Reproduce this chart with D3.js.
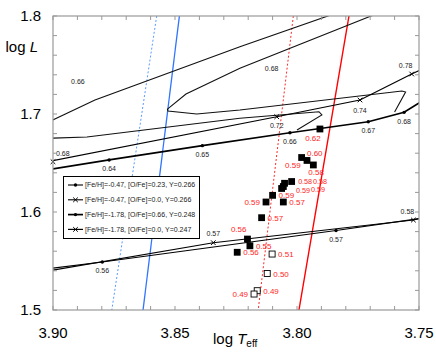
<!DOCTYPE html>
<html><head><meta charset="utf-8">
<script src="https://cdn.jsdelivr.net/npm/d3@7"></script>
<style>body{margin:0;background:#fff} svg{display:block;font-family:"Liberation Sans",Arial,sans-serif}</style>
</head><body><svg id="c" width="436" height="356"></svg>
<script>
// ---------- data ----------
const xTickLabels = [3.90, 3.85, 3.80, 3.75];
const yTickLabels = [1.5, 1.6, 1.7, 1.8];
const legendLabels = [
  "[Fe/H]=-0.47, [O/Fe]=0.23, Y=0.266",
  "[Fe/H]=-0.47, [O/Fe]=0.0, Y=0.266",
  "[Fe/H]=-1.78, [O/Fe]=0.66, Y=0.248",
  "[Fe/H]=-1.78, [O/Fe]=0.0, Y=0.247"
];
// ZAHB lines [logTeff, logL]
const zahbS1 = [[3.905,1.5412],[3.8798,1.5490],[3.7840,1.5811],[3.745,1.5950]];
const zahbS2 = [[3.905,1.5385],[3.8343,1.5687],[3.7523,1.5918],[3.745,1.5965]];
const zahbS3 = [[3.905,1.6420],[3.8770,1.6531],[3.8388,1.6677],[3.8029,1.6809],[3.7708,1.6921],[3.7561,1.7017],[3.745,1.7190]];
const zahbS4 = [[3.905,1.6500],[3.8083,1.6972],[3.7742,1.7143],[3.7530,1.7408],[3.745,1.7500]];
// labelled masses on ZAHB lines [logTeff, logL, mass]
const massS1 = [[3.8798,1.5490,"0.56"],[3.7840,1.5811,"0.57"]];
const massS2 = [[3.8343,1.5687,"0.57"],[3.7523,1.5918,"0.58"]];
const massS3 = [[3.8770,1.6531,"0.64"],[3.8388,1.6677,"0.65"],[3.8029,1.6809,"0.66"],[3.7708,1.6921,"0.67"],[3.7561,1.7017,"0.68"]];
const massS4 = [[3.900,1.6513,"0.68"],[3.8083,1.6972,"0.72"],[3.7742,1.7143,"0.74"],[3.7530,1.7408,"0.78"]];
const massS1Side = ["b","b"];
const massS2Side = ["a","al"];
const massS3Side = ["b","b","b","b","b"];
const massS4Side = ["ar","b","b2","al"];
// evolutionary tracks (no markers)
const track066 = [[3.8000,1.6837],[3.7898,1.6990],[3.7910,1.7023],[3.8234,1.6956],[3.8861,1.6765],[3.905,1.6750],[3.908,1.6800],[3.905,1.6880],[3.8828,1.7143],[3.8234,1.7687],[3.7756,1.8102]];
const track068 = [[3.7600,1.7020],[3.7555,1.7224],[3.7570,1.7235],[3.8234,1.7041],[3.8411,1.7000],[3.8529,1.7031],[3.8531,1.7050],[3.8455,1.7204],[3.8234,1.7466],[3.7594,1.8102]];
const trackLabels = [[3.8898,1.7327,"0.66"],[3.8104,1.7466,"0.68"]];
// instability strip edges [[top],[bottom]]
const blueSolid = [[3.8482,1.8],[3.8631,1.5]];
const blueDash  = [[3.8575,1.8],[3.8759,1.5]];
const redSolid  = [[3.7787,1.8],[3.7992,1.5]];
const redDash   = [[3.8015,1.8],[3.8159,1.5]];
// stars [logTeff, logL, mass]
const starsFilled = [[3.7906,1.6847,"0.62"],[3.7981,1.6556,"0.59"],[3.7959,1.6526,"0.60"],[3.7933,1.6480,"0.58"],
  [3.8022,1.6311,"0.58"],[3.8051,1.6293,"0.58"],[3.8056,1.6260,"0.59"],[3.8063,1.6240,"0.59"],
  [3.8100,1.6170,"0.59"],[3.8127,1.6102,"0.59"],[3.8056,1.6102,"0.57"],[3.8145,1.5942,"0.57"],
  [3.8203,1.5724,"0.56"],[3.8193,1.5655,"0.55"],[3.8245,1.5589,"0.56"]];
const starsFilledSide = ["bl","bl2","ur","br","c1","c2","c3","c4","r","l","r","r","ul","r","r"];
const starsOpen = [[3.8102,1.5571,"0.51"],[3.8122,1.5372,"0.50"],[3.8163,1.5197,"0.49"],[3.8176,1.5163,"0.49"]];
const starsOpenSide = ["r","r","r","l"];

// ---------- layout ----------
const m = {l:53, r:419, t:16, b:310};
const x = d3.scaleLinear().domain([3.90,3.75]).range([m.l,m.r]);
const y = d3.scaleLinear().domain([1.5,1.8]).range([m.b,m.t]);
const svg = d3.select("#c");

svg.append("defs").append("clipPath").attr("id","clip")
  .append("rect").attr("x",m.l).attr("y",m.t).attr("width",m.r-m.l).attr("height",m.b-m.t);
const plot = svg.append("g").attr("clip-path","url(#clip)");
const line = d3.line().x(d=>x(d[0])).y(d=>y(d[1]));

// strip edges
plot.append("path").datum(blueDash).attr("d",line).attr("fill","none").attr("stroke","#5b9bff").attr("stroke-width",1).attr("stroke-dasharray","2,2");
plot.append("path").datum(blueSolid).attr("d",line).attr("fill","none").attr("stroke","#2f74ff").attr("stroke-width",1.3);
plot.append("path").datum(redDash).attr("d",line).attr("fill","none").attr("stroke","#ff2a2a").attr("stroke-width",1).attr("stroke-dasharray","2,2");
plot.append("path").datum(redSolid).attr("d",line).attr("fill","none").attr("stroke","#ff0000").attr("stroke-width",1.4);

// tracks
[track066, track068].forEach(t=>{
  plot.append("path").datum(t).attr("d",line).attr("fill","none").attr("stroke","#111").attr("stroke-width",1.1);
});
const series = [
  {pts:zahbS1, marks:massS1, side:massS1Side, sym:"dot", w:1.1},
  {pts:zahbS2, marks:massS2, side:massS2Side, sym:"x", w:1.1},
  {pts:zahbS3, marks:massS3, side:massS3Side, sym:"dot", w:1.7},
  {pts:zahbS4, marks:massS4, side:massS4Side, sym:"x", w:1.2}
];
function drawSym(g, sym, cx, cy){
  if(sym==="dot"){
    g.append("circle").attr("cx",cx).attr("cy",cy).attr("r",1.7).attr("fill","#000");
  } else {
    const s=2.3;
    g.append("path").attr("d",`M${cx-s},${cy-s}L${cx+s},${cy+s}M${cx-s},${cy+s}L${cx+s},${cy-s}`)
      .attr("stroke","#000").attr("stroke-width",1);
  }
}
const massOff = {b:[0,11.5,"middle"], b2:[0,13.5,"middle"], a:[0,-6.5,"middle"], al:[-6,-6.5,"middle"], ar:[3,-6,"start"]};
series.forEach(s=>{
  plot.append("path").datum(s.pts).attr("d",line).attr("fill","none").attr("stroke","#000").attr("stroke-width",s.w);
});
series.forEach(s=>{
  s.marks.forEach((d,i)=>{
    drawSym(svg, s.sym, x(d[0]), y(d[1]));
    const o = massOff[s.side[i]];
    svg.append("text").attr("x",x(d[0])+o[0]).attr("y",y(d[1])+o[1]).attr("text-anchor",o[2])
      .attr("font-size",7).attr("fill","#222").text(d[2]);
  });
});
trackLabels.forEach(d=>{
  svg.append("text").attr("x",x(d[0])).attr("y",y(d[1])).attr("dy","0.35em").attr("text-anchor","middle")
    .attr("font-size",7).attr("fill","#222").text(d[2]);
});

// stars
const starOff = {r:[6,3,"start",8], l:[-6,3,"end",8], ur:[0,-4.5,"start",8], ul:[-1,-7,"end",8],
  bl:[-7,12,"middle",8], bl2:[-1,10,"end",8], br:[-5,10.5,"start",8],
  c1:[6.5,2.8,"start",7.2], c2:[28.5,1,"start",7.2], c3:[12.7,6,"start",7.2], c4:[29.3,4,"start",7.2]};
function starLabel(d, side){
  const o = starOff[side];
  svg.append("text").attr("x",x(d[0])+o[0]).attr("y",y(d[1])+o[1]).attr("text-anchor",o[2])
    .attr("font-size",o[3]).attr("fill","#ff1e1e").text(d[2]);
}
starsFilled.forEach(d=>{
  svg.append("rect").attr("x",x(d[0])-3.4).attr("y",y(d[1])-3.4).attr("width",6.8).attr("height",6.8).attr("fill","#000");
});
starsOpen.forEach(d=>{
  svg.append("rect").attr("x",x(d[0])-3).attr("y",y(d[1])-3).attr("width",6).attr("height",6).attr("fill","#fff").attr("stroke","#000").attr("stroke-width",0.9);
});
starsFilled.forEach((d,i)=>starLabel(d, starsFilledSide[i]));
starsOpen.forEach((d,i)=>starLabel(d, starsOpenSide[i]));

// legend
const lg = svg.append("g");
lg.append("rect").attr("x",63.5).attr("y",176.5).attr("width",136).attr("height",62).attr("fill","#fff").attr("stroke","#000").attr("stroke-width",1);
legendLabels.forEach((t,i)=>{
  const yy = 185 + i*14.8;
  const s = series[i];
  lg.append("line").attr("x1",68).attr("x2",83).attr("y1",yy).attr("y2",yy).attr("stroke","#000").attr("stroke-width",s.w);
  drawSym(lg, s.sym, 75.5, yy);
  lg.append("text").attr("x",85).attr("y",yy).attr("dy","0.35em").attr("font-size",7).attr("fill","#222").text(t);
});

// frame & ticks
const axisCol = "#999";
svg.append("rect").attr("x",m.l).attr("y",m.t).attr("width",m.r-m.l).attr("height",m.b-m.t).attr("fill","none").attr("stroke",axisCol).attr("stroke-width",1.2);
const xt = d3.range(0,16).map(i=>3.90-i*0.01);
const yt = d3.range(0,16).map(i=>1.5+i*0.02);
const tk = svg.append("g").attr("stroke",axisCol).attr("stroke-width",1);
xt.forEach(v=>{
  tk.append("line").attr("x1",x(v)).attr("x2",x(v)).attr("y1",m.b).attr("y2",m.b-4);
  tk.append("line").attr("x1",x(v)).attr("x2",x(v)).attr("y1",m.t).attr("y2",m.t+4);
});
yt.forEach(v=>{
  tk.append("line").attr("x1",m.l).attr("x2",m.l+4).attr("y1",y(v)).attr("y2",y(v));
  tk.append("line").attr("x1",m.r).attr("x2",m.r-4).attr("y1",y(v)).attr("y2",y(v));
});
xTickLabels.forEach(v=>{
  svg.append("text").attr("x",x(v)).attr("y",338).attr("text-anchor","middle").attr("font-size",15).attr("fill","#000").text(v.toFixed(2));
});
yTickLabels.forEach(v=>{
  svg.append("text").attr("x",41).attr("y",y(v)).attr("dy","0.35em").attr("text-anchor","end").attr("font-size",15).attr("fill","#000").text(v.toFixed(1));
});
const yl = svg.append("text").attr("x",38).attr("y",52).attr("text-anchor","end").attr("font-size",15).attr("fill","#000");
yl.append("tspan").text("log ");
yl.append("tspan").attr("font-style","italic").text("L");
const xl = svg.append("text").attr("x",213).attr("y",344).attr("font-size",15).attr("fill","#000");
xl.append("tspan").text("log ");
xl.append("tspan").attr("font-style","italic").text("T");
xl.append("tspan").attr("font-size",10).attr("dy",3).text("eff");
</script></body></html>
